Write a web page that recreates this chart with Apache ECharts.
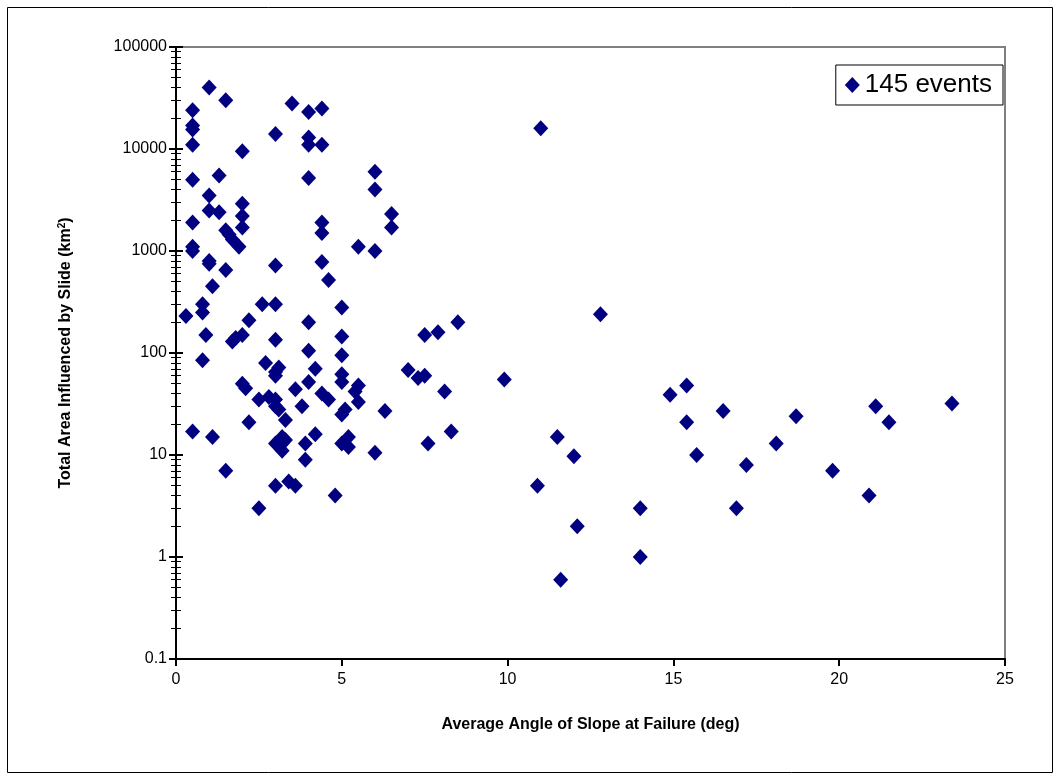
<!DOCTYPE html>
<html>
<head>
<meta charset="utf-8">
<script src="https://cdn.jsdelivr.net/npm/echarts@6/dist/echarts.min.js"></script>
<style>
  html, body { margin: 0; padding: 0; background: #fff; }
  #chart { width: 1060px; height: 780px; }
</style>
</head>
<body>
<div id="chart"></div>
<script>
// slope angle (deg) and area (km2)
let slopeAngle = [
  0.3, 0.5, 0.5, 0.5, 0.5, 0.5, 0.5, 0.5, 0.5, 0.5,
  0.8, 0.8, 0.8, 0.9, 1.0, 1.0, 1.0, 1.0, 1.0, 1.1,
  1.1, 1.3, 1.3, 1.5, 1.5, 1.5, 1.5, 1.6, 1.7, 1.7,
  1.8, 1.9, 2.0, 2.0, 2.0, 2.0, 2.0, 2.0, 2.1, 2.2,
  2.2, 2.5, 2.5, 2.6, 2.7, 2.8, 3.0, 3.0, 3.0, 3.0,
  3.0, 3.0, 3.0, 3.0, 3.0, 3.0, 3.1, 3.1, 3.2, 3.2,
  3.2, 3.3, 3.3, 3.4, 3.5, 3.6, 3.6, 3.8, 3.9, 3.9,
  4.0, 4.0, 4.0, 4.0, 4.0, 4.0, 4.0, 4.2, 4.2, 4.4,
  4.4, 4.4, 4.4, 4.4, 4.4, 4.6, 4.6, 4.8, 5.0, 5.0,
  5.0, 5.0, 5.0, 5.0, 5.0, 5.1, 5.2, 5.2, 5.4, 5.5,
  5.5, 5.5, 6.0, 6.0, 6.0, 6.0, 6.3, 6.5, 6.5, 7.0,
  7.3, 7.5, 7.5, 7.6, 7.9, 8.1, 8.3, 8.5, 9.9, 10.9,
  11.0, 11.5, 11.6, 12.0, 12.1, 12.8, 14.0, 14.0, 14.9, 15.4,
  15.4, 15.7, 16.5, 16.9, 17.2, 18.1, 18.7, 19.8, 20.9, 21.1,
  21.5, 23.4
];
let slideArea = [
  230, 24000, 17000, 15500, 11000, 5000, 1900, 1100, 1000, 17,
  300, 250, 85, 150, 40000, 3500, 2500, 800, 750, 450,
  15, 5500, 2400, 30000, 1600, 650, 7, 1450, 1300, 130,
  140, 1100, 9500, 2900, 2200, 1700, 150, 50, 45, 210,
  21, 3, 35, 300, 80, 37, 14000, 720, 300, 135,
  65, 60, 35, 30, 13, 5, 72, 28, 15, 11,
  13, 22, 14, 5.5, 28000, 5, 44, 30, 13, 9,
  23000, 13000, 11000, 5200, 200, 105, 52, 70, 16, 25000,
  11000, 1900, 1500, 780, 40, 520, 35, 4, 280, 145,
  95, 62, 52, 25, 13, 28, 15, 12, 42, 1100,
  48, 33, 6000, 4000, 1000, 10.5, 27, 2300, 1700, 68,
  57, 150, 60, 13, 160, 42, 17, 200, 55, 5,
  16000, 15, 0.6, 9.7, 2, 240, 3, 1, 39, 48,
  21, 10, 27, 3, 8, 13, 24, 7, 4, 30,
  21, 32
];
let seriesName = '145 events';

let points = [];
for (let i = 0; i < slopeAngle.length; i++) {
  points.push([slopeAngle[i], slideArea[i]]);
}

let chart = echarts.init(document.getElementById('chart'));

// y axis settings shared by the labelled axis and the inside-tick copy
let yBase = {
  type: 'log',
  logBase: 10,
  min: 0.1,
  max: 100000,
  position: 'left',
  splitLine: { show: false }
};

let option = {
  backgroundColor: '#fff',
  animation: false,
  textStyle: { fontFamily: 'Liberation Sans, Arial, sans-serif' },
  graphic: [{
    type: 'rect',
    shape: { x: 7.5, y: 7.5, width: 1045, height: 765 },
    style: { fill: 'none', stroke: '#000', lineWidth: 1 },
    silent: true
  }],
  legend: {
    right: 57,
    top: 65,
    data: [seriesName],
    icon: 'diamond',
    itemWidth: 15,
    itemHeight: 16,
    itemGap: 10,
    padding: [7, 11, 7, 9],
    borderColor: '#000',
    borderWidth: 1,
    borderRadius: 0,
    backgroundColor: '#fff',
    textStyle: { fontSize: 26, color: '#000' }
  },
  grid: {
    left: 176,
    right: 55,
    top: 47,
    bottom: 121,
    show: true,
    borderColor: '#808080',
    borderWidth: 2,
    backgroundColor: '#fff'
  },
  xAxis: {
    type: 'value',
    min: 0,
    max: 25,
    interval: 5,
    name: 'Average Angle of Slope at Failure (deg)',
    nameLocation: 'middle',
    nameGap: 58,
    nameTextStyle: { fontSize: 16, fontWeight: 'bold', color: '#000' },
    axisLine: { onZero: false, lineStyle: { color: '#000', width: 2 } },
    axisTick: { show: true, length: 7, lineStyle: { color: '#000', width: 2 } },
    axisLabel: { fontSize: 16, color: '#000', margin: 13 },
    splitLine: { show: false }
  },
  yAxis: [
    Object.assign({}, yBase, {
      name: 'Total Area Influenced by Slide (km{sup|2})',
      nameLocation: 'middle',
      nameGap: 101,
      nameTextStyle: {
        fontSize: 16, fontWeight: 'bold', color: '#000',
        rich: { sup: { fontSize: 10, fontWeight: 'bold', verticalAlign: 'top', padding: [0, 0, 8, 0] } }
      },
      axisLine: { lineStyle: { color: '#000', width: 2 } },
      axisTick: { show: true, length: 7, lineStyle: { color: '#000', width: 2 } },
      minorTick: { show: true, splitNumber: 9, length: 5, lineStyle: { color: '#000', width: 1 } },
      axisLabel: {
        fontSize: 16, color: '#000', margin: 9,
        formatter: function (v) { return String(v); }
      }
    }),
    Object.assign({}, yBase, {
      axisLine: { show: false },
      axisTick: { show: true, inside: true, length: 7, lineStyle: { color: '#000', width: 2 } },
      minorTick: { show: true, splitNumber: 9, length: 5, lineStyle: { color: '#000', width: 1 } },
      axisLabel: { show: false }
    })
  ],
  series: [{
    name: seriesName,
    type: 'scatter',
    data: points,
    symbol: 'diamond',
    symbolSize: [15, 16],
    itemStyle: { color: '#000080', opacity: 1 }
  }]
};
chart.setOption(option);

window.onresize = function () {
  chart.resize();
};
</script>
</body>
</html>
